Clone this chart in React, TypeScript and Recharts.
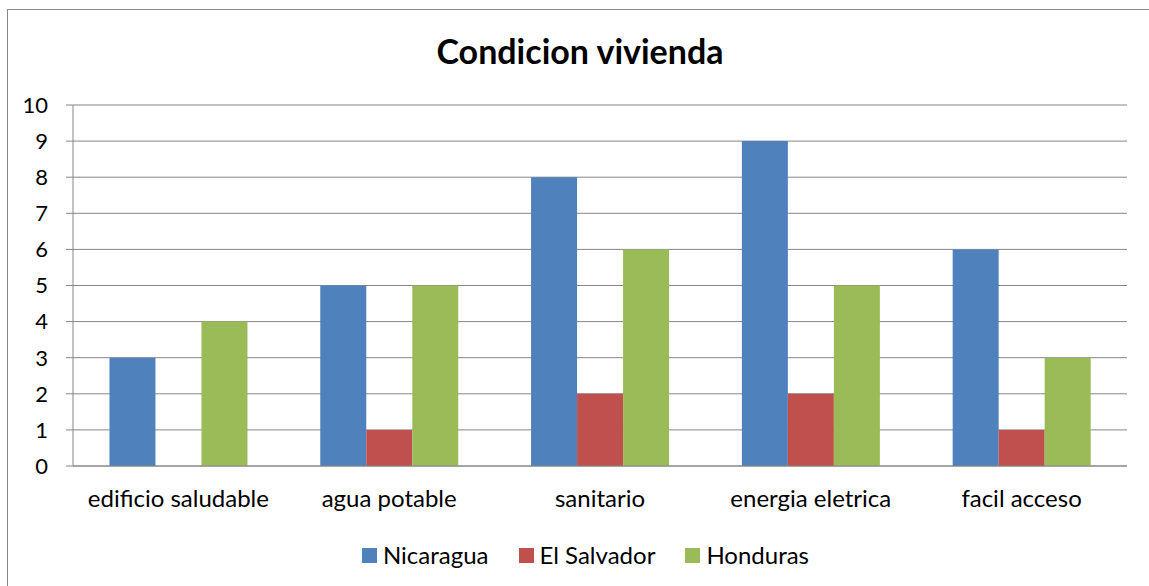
import React from "react";
import { BarChart, Bar, XAxis, YAxis, CartesianGrid, Legend } from "recharts";

const categories = ["edificio saludable", "agua potable", "sanitario", "energia eletrica", "facil acceso"];
const nicaragua = [3, 5, 8, 9, 6];
const elSalvador = [0, 1, 2, 2, 1];
const honduras = [4, 5, 6, 5, 3];
const yTicks = [0, 1, 2, 3, 4, 5, 6, 7, 8, 9, 10];
const edgeTicks = [0, 1, 2, 3, 4, 5];

const seriesNames = ["Nicaragua", "El Salvador", "Honduras"];
const colors = ["#4F81BD", "#C0504D", "#9BBB59"];

const data = categories.map((name, i) => ({
  name,
  Nicaragua: nicaragua[i],
  "El Salvador": elSalvador[i],
  Honduras: honduras[i],
}));

const FONT = "Lato, 'Open Sans', sans-serif";
const GRID = "#868686";

const LegendContent = () => (
  <div style={{ display: "flex", justifyContent: "center", alignItems: "center", fontFamily: FONT, fontSize: 24, lineHeight: "30px", color: "#000", paddingLeft: 22 }}>
    {seriesNames.map((s, i) => (
      <div key={s} style={{ display: "flex", alignItems: "center", marginRight: i < seriesNames.length - 1 ? 30 : 0 }}>
        <span style={{ display: "inline-block", width: 15, height: 15, background: colors[i], marginRight: 6 }} />
        <span>{s}</span>
      </div>
    ))}
  </div>
);

export default function App() {
  return (
    <div style={{ position: "absolute", left: 0, top: 0, width: 1149, height: 586, overflow: "hidden", background: "#fff" }}>
      <style>{"body{margin:0;overflow:hidden;}"}</style>
      <div style={{ position: "absolute", left: 7, top: 9, width: 1200, height: 700, border: "1.5px solid #868686", boxSizing: "border-box" }} />
      <div style={{ position: "absolute", left: 7, top: 31, width: 1146, textAlign: "center", fontFamily: FONT, fontWeight: "bold", fontSize: 34, lineHeight: "40px", color: "#000" }}>
        Condicion vivienda
      </div>
      <div style={{ position: "absolute", left: 0, top: 0 }}>
        <BarChart
          width={1149}
          height={586}
          data={data}
          margin={{ top: 105, right: 22, bottom: 80, left: 0 }}
          barCategoryGap="17.3%"
          barGap={0}
        >
          <CartesianGrid vertical={false} stroke={GRID} strokeWidth={1} />
          <XAxis
            xAxisId="edge"
            type="number"
            domain={[0, 5]}
            ticks={edgeTicks}
            tick={false}
            tickSize={7}
            axisLine={false}
            tickLine={{ stroke: GRID }}
            height={0}
            allowDataOverflow
          />
          <XAxis
            xAxisId="cat"
            dataKey="name"
            tickLine={false}
            tickSize={0}
            tickMargin={24}
            axisLine={{ stroke: GRID }}
            tick={{ fontFamily: FONT, fontSize: 24, fill: "#000" }}
            height={40}
            interval={0}
          />
          <YAxis
            domain={[0, 10]}
            ticks={yTicks}
            width={73}
            tickSize={7}
            tickMargin={18}
            axisLine={{ stroke: GRID }}
            tickLine={{ stroke: GRID }}
            tick={{ fontFamily: FONT, fontSize: 22, fill: "#000" }}
            interval={0}
          />
          <Legend
            layout="horizontal"
            verticalAlign="middle"
            align="center"
            wrapperStyle={{ position: "absolute", top: 540, left: 0, width: 1149 }}
            content={<LegendContent />}
          />
          {seriesNames.map((s, i) => (
            <Bar key={s} xAxisId="cat" dataKey={s} fill={colors[i]} isAnimationActive={false} />
          ))}
        </BarChart>
      </div>
    </div>
  );
}
